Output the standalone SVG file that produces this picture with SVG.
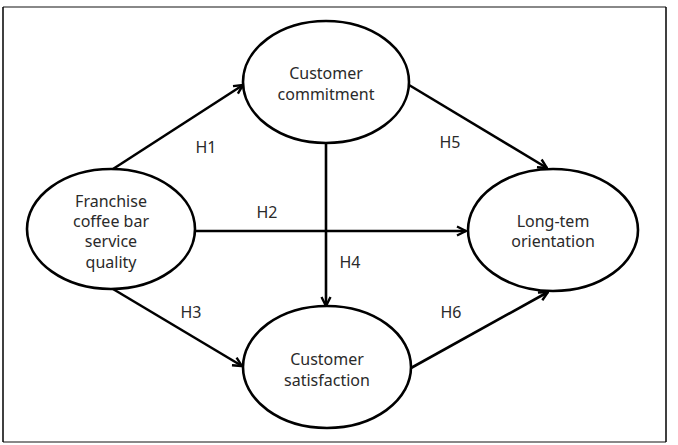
<svg xmlns="http://www.w3.org/2000/svg" width="678" height="445" viewBox="0 0 678 445">
<defs>
<marker id="arr" viewBox="0 0 12 12" refX="11" refY="6" markerWidth="12" markerHeight="12" markerUnits="userSpaceOnUse" orient="auto">
<path d="M2,1.5 L11,6 L2,10.5" fill="none" stroke="#000" stroke-width="2.4" stroke-linejoin="miter"/>
</marker>
</defs>
<style>
.node{fill:#fff;stroke:#000;stroke-width:2.6}
.t{font-family:"Noto Sans","Open Sans",sans-serif;font-size:16px;fill:#2a2a2a;text-anchor:middle}
.e{stroke:#000;stroke-width:2.6;fill:none;marker-end:url(#arr)}
</style>
<rect x="0" y="0" width="678" height="445" fill="#fff"/>
<line x1="3" y1="7" x2="666" y2="7" stroke="#888" stroke-width="2"/>
<line x1="3" y1="442" x2="666" y2="442" stroke="#888" stroke-width="2"/>
<line x1="3" y1="7" x2="3" y2="442" stroke="#000" stroke-width="1.5"/>
<line x1="666" y1="7" x2="666" y2="442" stroke="#000" stroke-width="1.5"/>
<g id="connectors">
<line class="e" x1="113" y1="169" x2="243" y2="85"/>
<line class="e" x1="195" y1="231" x2="466" y2="231"/>
<line class="e" x1="113" y1="289" x2="242" y2="366"/>
<line class="e" x1="326" y1="143" x2="326" y2="306"/>
<line class="e" x1="409" y1="85" x2="547" y2="168"/>
<line class="e" x1="411" y1="368" x2="548" y2="292"/>
<text class="t" x="206" y="153">H1</text>
<text class="t" x="267" y="218">H2</text>
<text class="t" x="191" y="318">H3</text>
<text class="t" x="350" y="268">H4</text>
<text class="t" x="450" y="148">H5</text>
<text class="t" x="451" y="318">H6</text>
</g>
<g id="franchise">
<ellipse class="node" cx="111" cy="229" rx="84" ry="60"/>
<text class="t" x="111" y="207">Franchise</text>
<text class="t" x="111" y="227">coffee bar</text>
<text class="t" x="111" y="247">service</text>
<text class="t" x="111" y="268">quality</text>
</g>
<g id="commitment">
<ellipse class="node" cx="326" cy="82" rx="83" ry="61"/>
<text class="t" x="326" y="79">Customer</text>
<text class="t" x="326" y="100">commitment</text>
</g>
<g id="satisfaction">
<ellipse class="node" cx="327" cy="367" rx="84" ry="61"/>
<text class="t" x="327" y="365">Customer</text>
<text class="t" x="327" y="386">satisfaction</text>
</g>
<g id="longterm">
<ellipse class="node" cx="553" cy="230" rx="85" ry="61"/>
<text class="t" x="553" y="227">Long-tem</text>
<text class="t" x="553" y="247">orientation</text>
</g>
</svg>
